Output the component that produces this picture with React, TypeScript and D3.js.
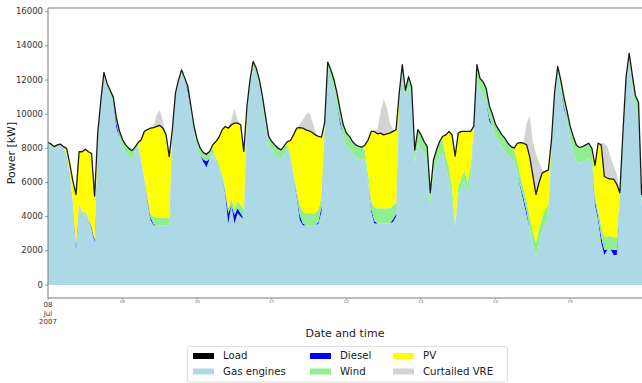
import React from "react";
import * as d3 from "d3";

// ---------- data (hourly, starting 08 Jul 2007 00:00) ----------
const START = Date.UTC(2007, 6, 8, 0, 0, 0);
const HOURS_SHOWN = 192;

const load = [
  8350, 8250, 8100, 8200, 8250, 8100, 8000, 7100, 6100, 5300, 7800, 7800, 7950, 7800, 7700, 5200, 8900, 10800, 12450, 11800, 11400, 11000, 9800, 9000,
  8500, 8200, 8000, 7870, 8070, 8340, 8500, 9000, 9100, 9180, 9220, 9280, 9340, 9180, 8790, 7520, 9100, 11230, 12020, 12600, 12110, 11630, 10450, 9280,
  8500, 8000, 7750, 7650, 7810, 8200, 8400, 8650, 9080, 9280, 9180, 9380, 9480, 9480, 9380, 7820, 10450, 12020, 13090, 12700, 12020, 11040, 9870, 8700,
  8400, 8200, 8010, 7910, 8150, 8400, 8460, 8790, 9180, 9220, 9180, 9080, 9030, 8930, 8790, 8700, 8660, 9500, 13050, 12600, 12020, 11230, 10260, 9380,
  8900, 8700, 8400, 8200, 8110, 8070, 8200, 8500, 8990, 8990, 8850, 8890, 8790, 8850, 8890, 8990, 9090, 11230, 12900, 11400, 12200, 11600, 7900, 9100,
  8800, 8400, 8100, 5400, 7300, 7900, 8400, 8700, 8790, 8990, 8800, 7550, 8890, 8990, 8990, 8990, 8990, 9300, 12900, 12100, 11900, 11500, 10500, 10000,
  9400, 9100, 8800, 8600, 8300, 8100, 8010, 8300, 8340, 8300, 8200, 7500, 6400, 5300, 6000, 6550, 6650, 6740, 8500, 11300, 12800, 12000, 11000, 10200,
  9300, 8700, 8200, 8050, 8100, 8200, 8300, 8000, 7000, 8300, 8200, 6350, 6250, 6200, 6200, 5900, 5400, 9000, 12200, 13580, 12300, 11100, 10700, 5300, 5250,
];

const diesel = [
  0, 0, 0, 0, 0, 0, 0, 0, 0, 200, 0, 0, 0, 0, 100, 150, 0, 0, 0, 0, 0, 0, 300, 0,
  0, 0, 0, 0, 0, 0, 0, 0, 100, 150, 50, 0, 0, 0, 0, 0, 0, 0, 0, 0, 0, 150, 0, 0,
  0, 0, 150, 350, 0, 0, 0, 0, 0, 100, 600, 0, 500, 300, 200, 0, 0, 0, 0, 0, 0, 0, 0, 0,
  0, 0, 0, 0, 0, 0, 0, 0, 100, 300, 100, 0, 0, 0, 0, 100, 300, 0, 0, 0, 0, 0, 200, 0,
  0, 0, 0, 0, 0, 0, 0, 0, 150, 150, 0, 0, 0, 0, 0, 150, 150, 0, 0, 0, 0, 0, 0, 0,
  0, 0, 0, 0, 0, 0, 0, 0, 0, 0, 0, 0, 0, 0, 0, 0, 0, 0, 0, 0, 0, 0, 200, 0,
  0, 0, 0, 0, 0, 0, 0, 0, 100, 200, 200, 0, 0, 0, 0, 0, 0, 0, 0, 0, 0, 0, 150, 0,
  0, 0, 0, 0, 0, 0, 0, 0, 200, 200, 300, 300, 0, 0, 300, 300, 0, 0, 0, 0, 0, 0, 0, 0, 0,
];

const wind = [
  100, 100, 100, 100, 100, 0, 0, 0, 0, 0, 0, 0, 0, 0, 0, 0, 100, 100, 100, 200, 200, 200, 300, 400,
  450, 450, 450, 450, 300, 200, 0, 0, 100, 200, 450, 450, 450, 450, 450, 450, 100, 100, 100, 100, 100, 200, 200, 200,
  400, 400, 400, 400, 400, 200, 200, 200, 200, 200, 300, 300, 400, 400, 500, 500, 200, 300, 300, 300, 300, 300, 500, 500,
  500, 500, 500, 500, 500, 200, 200, 200, 300, 600, 700, 700, 700, 700, 700, 700, 600, 300, 200, 600, 600, 600, 600, 600,
  700, 700, 700, 700, 700, 700, 500, 500, 500, 800, 900, 900, 900, 900, 900, 800, 650, 500, 500, 500, 500, 500, 800, 800,
  800, 800, 800, 800, 800, 800, 800, 800, 700, 700, 700, 250, 600, 600, 600, 600, 600, 500, 700, 700, 700, 700, 700, 700,
  700, 700, 700, 700, 700, 700, 700, 700, 600, 600, 600, 700, 700, 900, 900, 800, 800, 700, 600, 300, 300, 500, 500, 500,
  800, 900, 900, 900, 900, 900, 900, 900, 300, 400, 700, 750, 750, 750, 750, 750, 500, 300, 300, 300, 700, 700, 700, 600, 600,
];

const pv = [
  0, 0, 0, 0, 0, 0, 400, 500, 1200, 3000, 3000, 3550, 3650, 3900, 4300, 2550, 0, 0, 0, 0, 0, 0, 0, 0,
  0, 0, 0, 0, 0, 0, 1200, 2700, 4000, 5030, 5220, 5330, 5390, 5230, 4840, 3570, 0, 0, 0, 0, 0, 0, 0, 0,
  0, 0, 0, 0, 0, 200, 900, 1550, 2580, 3580, 4680, 4380, 4980, 4580, 4680, 3420, 0, 0, 0, 0, 0, 0, 0, 0,
  0, 0, 0, 0, 0, 200, 760, 2190, 3580, 4520, 4880, 4880, 4830, 4730, 4590, 4300, 3460, 0, 0, 0, 0, 0, 0, 0,
  0, 0, 0, 0, 0, 0, 300, 2000, 4040, 4440, 4350, 4390, 4290, 4350, 4390, 4340, 4290, 0, 0, 0, 0, 0, 0, 0,
  0, 0, 0, 0, 0, 0, 0, 200, 1290, 2090, 3100, 3900, 3090, 2690, 2290, 2990, 1990, 0, 0, 0, 0, 0, 0, 0,
  0, 0, 0, 0, 0, 0, 100, 1000, 1940, 2600, 3300, 3500, 3300, 2800, 2700, 2550, 2250, 2040, 0, 0, 0, 0, 0, 0,
  0, 0, 0, 0, 0, 0, 0, 0, 1800, 3900, 4700, 3550, 3400, 3350, 3400, 3100, 0, 0, 0, 0, 0, 0, 0, 0, 0,
];

const curtailedVRE = [
  0, 0, 0, 0, 0, 0, 0, 0, 0, 0, 0, 0, 0, 0, 0, 0, 0, 0, 0, 0, 0, 0, 0, 0,
  0, 0, 0, 0, 0, 0, 0, 0, 0, 0, 100, 700, 900, 400, 0, 0, 0, 0, 0, 0, 0, 0, 0, 0,
  0, 0, 0, 0, 0, 0, 0, 0, 0, 0, 0, 300, 850, 200, 0, 0, 0, 0, 0, 0, 0, 0, 0, 0,
  0, 0, 0, 0, 0, 0, 0, 0, 0, 200, 500, 900, 1100, 700, 200, 0, 0, 0, 0, 0, 0, 0, 0, 0,
  0, 0, 0, 0, 0, 0, 0, 0, 0, 0, 300, 1260, 2100, 1550, 600, 100, 0, 0, 0, 0, 0, 0, 0, 0,
  0, 0, 0, 0, 0, 0, 0, 0, 0, 0, 0, 0, 0, 0, 0, 0, 0, 0, 0, 0, 0, 0, 0, 0,
  0, 0, 0, 0, 0, 0, 0, 0, 0, 0, 1300, 2400, 2000, 2400, 1200, 200, 0, 0, 0, 0, 0, 0, 0, 0,
  0, 0, 0, 0, 0, 0, 0, 0, 0, 0, 100, 1950, 1850, 1300, 800, 600, 0, 0, 0, 0, 0, 0, 0, 0, 0,
];

// gas engines supply the remainder of the load
const gasEngines = load.map((l, i) => l - diesel[i] - wind[i] - pv[i]);

const Y_TICKS = [0, 2000, 4000, 6000, 8000, 10000, 12000, 14000, 16000];
const FIRST_TICK_EXTRA = ["Jul", "2007"];

const SERIES_KEYS = ["gas", "diesel", "wind", "pv", "curt"];
const SERIES_COLORS: Record<string, string> = {
  gas: "#add8e6",
  diesel: "#0000ff",
  wind: "#90ee90",
  pv: "#ffff00",
  curt: "#d3d3d3",
};

const LEGEND_ITEMS = [
  { label: "Load", color: "#000000" },
  { label: "Gas engines", color: "#add8e6" },
  { label: "Diesel", color: "#0000ff" },
  { label: "Wind", color: "#90ee90" },
  { label: "PV", color: "#ffff00" },
  { label: "Curtailed VRE", color: "#d3d3d3" },
];

const FONT = "DejaVu Sans, Verdana, sans-serif";

export default function App() {
  const W = 642;
  const H = 383;
  const left = 48;
  const top = 8;
  const bottom = 298;
  const pxPerHour = 3.108;
  const right = left + HOURS_SHOWN * pxPerHour;

  const times = load.map((_, i) => new Date(START + i * 3600e3));
  const x = d3
    .scaleUtc()
    .domain([new Date(START), new Date(START + HOURS_SHOWN * 3600e3)])
    .range([left, right]);
  const y = d3.scaleLinear().domain([0, 16000]).range([285, 11.7]);

  const rows = load.map((_, i) => ({
    gas: gasEngines[i],
    diesel: diesel[i],
    wind: wind[i],
    pv: pv[i],
    curt: curtailedVRE[i],
  }));
  const stacked = d3.stack<any>().keys(SERIES_KEYS)(rows);
  const area = d3
    .area<any>()
    .x((_, i) => x(times[i]))
    .y0((d) => y(d[0]))
    .y1((d) => y(d[1]));
  const line = d3
    .line<number>()
    .x((_, i) => x(times[i]))
    .y((d) => y(d));

  const dayTicks = d3.utcDay.range(new Date(START), new Date(START + HOURS_SHOWN * 3600e3));
  const fmtDay = d3.utcFormat("%d");

  // legend layout
  const legX = 187.5;
  const legY = 346.5;
  const colPatchX = [193, 310, 393];
  const rowCY = [356, 371.5];

  return (
    <svg
      width={W}
      height={H}
      style={{ position: "absolute", left: 0, top: 0, background: "#fff" }}
      fontFamily={FONT}
    >
      <rect x={0} y={0} width={W} height={H} fill="#ffffff" />
      <defs>
        <clipPath id="plotclip">
          <rect x={left} y={top} width={right - left} height={bottom - top} />
        </clipPath>
      </defs>
      <g clipPath="url(#plotclip)">
        {stacked.map((s) => (
          <path key={s.key} d={area(s as any) || ""} fill={SERIES_COLORS[s.key]} stroke="none" />
        ))}
        <path d={line(load) || ""} fill="none" stroke="#1a1a1a" strokeWidth={1.3} strokeLinejoin="round" />
      </g>

      {/* spines */}
      <g stroke="#7a7a7a" strokeWidth={1} fill="none">
        <line x1={left} y1={top} x2={left} y2={bottom} />
        <line x1={left} y1={top} x2={right} y2={top} />
        <line x1={left} y1={bottom} x2={right} y2={bottom} />
        <line x1={right} y1={top} x2={right} y2={bottom} />
      </g>

      {/* y axis */}
      <g fontSize={8.5} fill="#333">
        {Y_TICKS.map((t) => (
          <g key={t}>
            <line x1={left - 3} x2={left} y1={y(t)} y2={y(t)} stroke="#7a7a7a" strokeWidth={0.8} />
            <text x={left - 5} y={y(t)} textAnchor="end" dominantBaseline="middle">
              {t}
            </text>
          </g>
        ))}
      </g>
      <text
        transform={`translate(12,153) rotate(-90)`}
        textAnchor="middle"
        dominantBaseline="middle"
        fontSize={11}
        fill="#222"
      >
        Power [kW]
      </text>

      {/* x axis */}
      <g fill="#333">
        {dayTicks.map((d, i) => {
          const xx = x(d);
          return (
            <g key={i}>
              <line x1={xx} x2={xx} y1={bottom} y2={bottom + 2} stroke="#7a7a7a" strokeWidth={0.6} />
              {i === 0 ? (
                <text x={xx} y={307} textAnchor="middle" fontSize={7}>
                  <tspan x={xx}>{fmtDay(d)}</tspan>
                  {FIRST_TICK_EXTRA.map((t, k) => (
                    <tspan key={k} x={xx} dy={8.6}>
                      {t}
                    </tspan>
                  ))}
                </text>
              ) : (
                <text x={xx} y={303} textAnchor="middle" fontSize={4} fill="#666">
                  {fmtDay(d)}
                </text>
              )}
            </g>
          );
        })}
      </g>
      <text x={345} y={337} textAnchor="middle" fontSize={11} fill="#222">
        Date and time
      </text>

      {/* legend */}
      <rect x={legX} y={legY} width={320} height={35.5} rx={2} fill="#fff" stroke="#d6d6d6" strokeWidth={0.8} />
      {LEGEND_ITEMS.map((it, i) => {
        const col = Math.floor(i / 2);
        const row = i % 2;
        const px = colPatchX[col];
        const cy = rowCY[row];
        return (
          <g key={it.label}>
            <rect x={px} y={cy - 3} width={21} height={6} fill={it.color} />
            <text x={px + 30} y={cy} dominantBaseline="middle" fontSize={10.2} fill="#222">
              {it.label}
            </text>
          </g>
        );
      })}
    </svg>
  );
}
